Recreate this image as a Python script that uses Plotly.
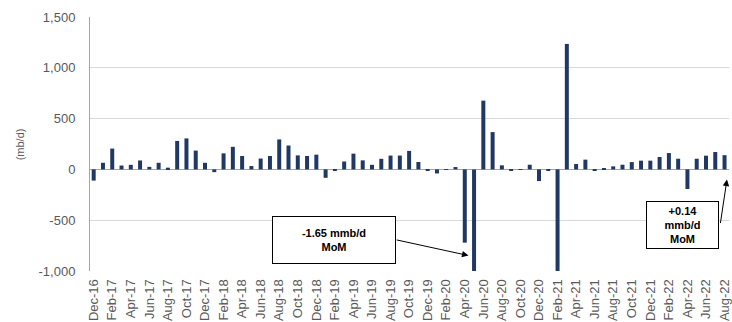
import pandas as pd
import plotly.graph_objects as go

months = [d.strftime("%b-%y") for d in pd.date_range("2016-12-01", "2022-08-01", freq="MS")]
mom_change = [
    -110, 65, 205, 38, 45, 88, 25, 65, 17, 280, 305, 185,
    65, -27, 158, 222, 132, 33, 107, 132, 295, 235, 138, 132,
    145, -83, -8, 78, 155, 89, 45, 104, 136, 136, 182, 73,
    -8, -40, -5, 23, -721, -1650, 677, 367, 40, -6, 3, 46,
    -115, -6, -1200, 1235, 53, 96, -8, 12, 30, 46, 72, 86,
    86, 122, 161, 105, -193, 105, 135, 171, 140,
]
y_ticks = [-1000, -500, 0, 500, 1000, 1500]
y_tick_text = ["-1,000", "-500", "0", "500", "1,000", "1,500"]

idx = list(range(len(months)))
label_idx = idx[::2]
label_txt = [months[i] for i in label_idx]

fig = go.Figure(go.Bar(x=idx, y=mom_change, marker_color="#1F3864",
                       marker_line_width=0, hoverinfo="skip"))

font = "Arial, Liberation Sans, sans-serif"
fig.update_layout(
    width=732, height=322,
    margin=dict(l=90, r=0, t=17, b=51),
    paper_bgcolor="white", plot_bgcolor="white",
    bargap=0.57, showlegend=False,
    font=dict(family=font, color="#595959", size=13),
)
fig.update_xaxes(
    range=[-0.397, 68.48], tickmode="array", tickvals=label_idx, ticktext=label_txt,
    tickangle=-90, showgrid=False, zeroline=False, showline=False,
    ticks="outside", ticklen=2, tickcolor="rgba(0,0,0,0)",
    ticklabeloverflow="allow",
    tickfont=dict(size=13, color="#595959", family=font),
)
fig.update_yaxes(
    range=[-1000, 1500], tickmode="array", tickvals=y_ticks, ticktext=y_tick_text,
    showgrid=True, gridcolor="#D9D9D9", gridwidth=1,
    zeroline=True, zerolinecolor="#A6A6A6", zerolinewidth=1,
    showline=True, linecolor="#A6A6A6", linewidth=1,
    ticks="outside", ticklen=11, tickcolor="rgba(0,0,0,0)",
    tickfont=dict(size=13, color="#595959", family=font),
)

fig.add_annotation(xref="paper", yref="paper", x=-0.109, y=0.5, text="(mb/d)",
                   textangle=-90, showarrow=False, xanchor="center", yanchor="middle",
                   font=dict(size=11, color="#595959", family=font))

box_font = dict(size=11, color="black", family=font)
fig.add_annotation(x=25.9, y=-691, xref="x", yref="y",
                   text="<b>-1.65 mmb/d<br>MoM</b>", showarrow=False,
                   width=122, height=46, bgcolor="white", bordercolor="black",
                   borderwidth=1, borderpad=0, font=box_font)
fig.add_annotation(x=63.5, y=-543, xref="x", yref="y",
                   text="<b>+0.14<br>mmb/d<br>MoM</b>", showarrow=False,
                   width=71, height=46, bgcolor="white", bordercolor="black",
                   borderwidth=1, borderpad=0, font=box_font)
fig.add_annotation(x=40.4, y=-848, xref="x", yref="y", ax=32.5, ay=-691,
                   axref="x", ayref="y", text="", showarrow=True,
                   arrowhead=2, arrowsize=1.3, arrowwidth=1, arrowcolor="black")
fig.add_annotation(x=68.26, y=-100, xref="x", yref="y", ax=67.53, ay=-543,
                   axref="x", ayref="y", text="", showarrow=True,
                   arrowhead=2, arrowsize=1.3, arrowwidth=1, arrowcolor="black")

fig.write_html(
    "out.html",
    config={"displayModeBar": False},
    post_script="document.body.style.margin='0';document.body.style.overflow='hidden';",
)
